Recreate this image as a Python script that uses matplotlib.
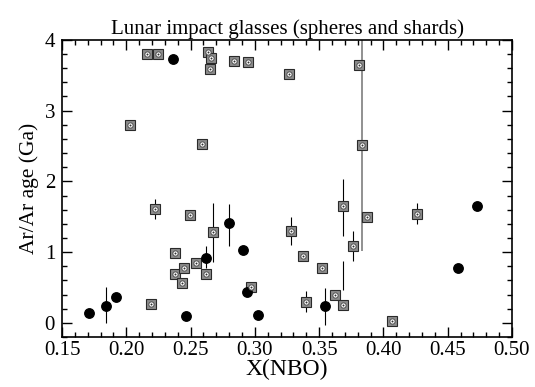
import numpy as np
import matplotlib
matplotlib.use("Agg")
from matplotlib import pyplot as plt
from matplotlib.ticker import MultipleLocator

plt.rcParams['font.family'] = ['Liberation Serif', 'DejaVu Serif']

# glass shards (patterned squares): x, age, error-bar low, error-bar high (nan = none)
sq_x = [0.2159, 0.2244, 0.2633, 0.2659, 0.2651, 0.284, 0.2949, 0.3268, 0.3812,
        0.2029, 0.2586, 0.383, 0.2192, 0.2223, 0.2376, 0.2376, 0.2431, 0.2451,
        0.2498, 0.2542, 0.2622, 0.2676, 0.297, 0.328, 0.3372, 0.34, 0.3522,
        0.3623, 0.3683, 0.3687, 0.3766, 0.387, 0.4258, 0.4068]
sq_y = [3.80, 3.80, 3.83, 3.75, 3.59, 3.70, 3.69, 3.515, 3.64,
        2.79, 2.53, 2.51, 0.273, 1.616, 0.985, 0.688, 0.561, 0.78,
        1.53, 0.852, 0.688, 1.29, 0.513, 1.30, 0.951, 0.30, 0.777,
        0.396, 1.65, 0.254, 1.09, 1.50, 1.54, 0.0325]
sq_lo = [np.nan] * 34
sq_hi = [np.nan] * 34
for i, lo, hi in [(13, 1.47, 1.75), (21, 0.866, 1.70), (23, 1.10, 1.50),
                  (25, 0.16, 0.45), (28, 1.23, 2.03), (30, 0.88, 1.30),
                  (32, 1.40, 1.70)]:
    sq_lo[i] = lo
    sq_hi[i] = hi

# spheres (black circles)
ci_x = [0.171, 0.1842, 0.192, 0.2366, 0.2467, 0.2617, 0.2801, 0.2905, 0.2939,
        0.3026, 0.3545, 0.4577, 0.4725]
ci_y = [0.137, 0.24, 0.363, 3.73, 0.099, 0.914, 1.41, 1.03, 0.442,
        0.113, 0.245, 0.773, 1.654]
ci_lo = [np.nan, 0.0, np.nan, np.nan, np.nan, 0.77, 1.09, np.nan, np.nan,
         np.nan, -0.03, np.nan, np.nan]
ci_hi = [np.nan, 0.505, np.nan, np.nan, np.nan, 1.08, 1.68, np.nan, np.nan,
         np.nan, 0.49, np.nan, np.nan]

# long uncertainty range (grey) and a detached bar segment
long_x, long_lo, long_hi = 0.383, 1.01, 4.3
seg_x, seg_lo, seg_hi = 0.3683, 0.466, 0.876

fig = plt.figure(figsize=(5.35, 3.87), dpi=100)
ax = fig.add_axes([0.116, 0.129, 0.841, 0.768])

ax.vlines(long_x, long_lo, long_hi, color='#909090', lw=1.4, zorder=1)
ax.vlines(seg_x, seg_lo, seg_hi, color='k', lw=0.8, zorder=1)

sx, sy = np.array(sq_x), np.array(sq_y)
s_err = np.nan_to_num(np.array([sy - np.array(sq_lo), np.array(sq_hi) - sy]))
cx, cy = np.array(ci_x), np.array(ci_y)
c_err = np.nan_to_num(np.array([cy - np.array(ci_lo), np.array(ci_hi) - cy]))

ax.errorbar(sx, sy, yerr=s_err, fmt='none', ecolor='k', elinewidth=0.8,
            capsize=0, zorder=2)
ax.errorbar(cx, cy, yerr=c_err, fmt='none', ecolor='k', elinewidth=0.8,
            capsize=0, zorder=2)

# patterned square marker: grey square, white ring, dark dot
ax.plot(sx, sy, 's', ms=6.6, mfc='#8c8c8c', mec='#2a2a2a', mew=0.8, zorder=3)
ax.plot(sx, sy, 'o', ms=3.8, mfc='white', mec='#505050', mew=0.7, zorder=4)
ax.plot(sx, sy, 'o', ms=1.4, mfc='#303030', mec='none', zorder=5)
ax.plot(cx, cy, 'o', ms=6.8, mfc='k', mec='k', zorder=3)

ax.set_xlim(0.15, 0.50)
ax.set_ylim(-0.2, 4.0)
ax.xaxis.set_minor_locator(MultipleLocator(0.01))
ax.yaxis.set_major_locator(MultipleLocator(1))
ax.yaxis.set_minor_locator(MultipleLocator(0.2))
ax.set_xticks(np.arange(0.15, 0.501, 0.05))
ax.set_xticklabels(['%.2f' % v for v in np.arange(0.15, 0.501, 0.05)])
ax.tick_params(which='both', direction='in', top=True, right=True,
               labelsize=15, width=1)
ax.tick_params(which='major', length=7)
ax.tick_params(which='minor', length=3.5)
ax.tick_params(axis='x', pad=3)
ax.tick_params(axis='y', pad=5)
for s in ax.spines.values():
    s.set_linewidth(1.2)

ax.set_xlabel('X(NBO)', fontsize=17, labelpad=-1)
ax.set_ylabel('Ar/Ar age (Ga)', fontsize=15.5, labelpad=4)
ax.set_title('Lunar impact glasses (spheres and shards)', fontsize=15, pad=4)

fig.savefig('out.png', dpi=100)
